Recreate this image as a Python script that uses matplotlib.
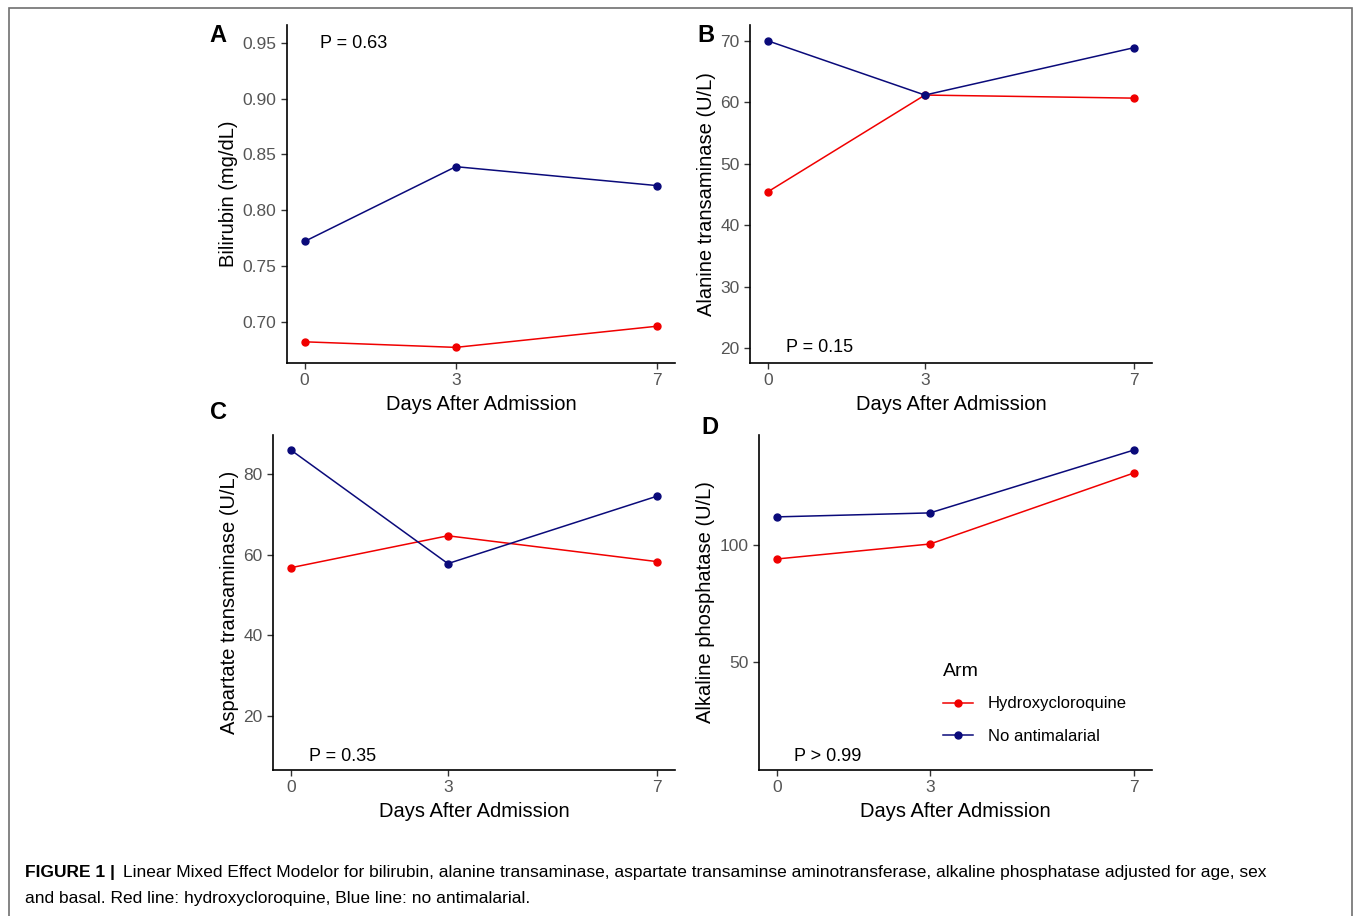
import matplotlib.pyplot as plt
from matplotlib.patches import Rectangle

plt.rcParams['font.family'] = ['Liberation Sans', 'DejaVu Sans']

days = [0, 3, 7]
day_labels = ["0", "3", "7"]

# values
bili_hcq = [0.682, 0.677, 0.696]
bili_none = [0.772, 0.839, 0.822]
alt_hcq = [45.5, 61.2, 60.7]
alt_none = [70.0, 61.2, 68.9]
ast_hcq = [56.8, 64.7, 58.3]
ast_none = [85.9, 57.8, 74.5]
alp_hcq = [94.0, 100.4, 130.8]
alp_none = [112.0, 113.7, 140.6]

arm_names = ["Hydroxycloroquine", "No antimalarial"]
red = "#F00000"
navy = "#0A0A7A"

W, H = 1355, 916
fig = plt.figure(figsize=(W / 100, H / 100), dpi=100)

# grey frame around the whole figure (bottom edge runs off the image)
fig.patches.append(Rectangle((9 / W, -10 / H), 1343 / W, 918 / H, transform=fig.transFigure,
                             fill=False, edgecolor="#707070", linewidth=1.2))


def box(x0, x1, y0, y1):
    return [x0 / W, 1 - y1 / H, (x1 - x0) / W, (y1 - y0) / H]


panels = [
    dict(rect=box(287, 675, 25, 363), hcq=bili_hcq, none=bili_none, ylabel="Bilirubin (mg/dL)",
         ylim=(0.663, 0.966), yticks=[0.70, 0.75, 0.80, 0.85, 0.90, 0.95], fmt="{:.2f}",
         p="P = 0.63", p_xy=(0.085, 0.945), letter="A", let_xy=(218, 36)),
    dict(rect=box(750, 1152, 25, 363), hcq=alt_hcq, none=alt_none, ylabel="Alanine transaminase (U/L)",
         ylim=(17.6, 72.6), yticks=[20, 30, 40, 50, 60, 70], fmt="{:.0f}",
         p="P = 0.15", p_xy=(0.09, 0.045), letter="B", let_xy=(706, 36)),
    dict(rect=box(273, 675, 435, 770), hcq=ast_hcq, none=ast_none, ylabel="Aspartate transaminase (U/L)",
         ylim=(6.6, 89.7), yticks=[20, 40, 60, 80], fmt="{:.0f}",
         p="P = 0.35", p_xy=(0.09, 0.04), letter="C", let_xy=(218, 412)),
    dict(rect=box(759, 1152, 435, 770), hcq=alp_hcq, none=alp_none, ylabel="Alkaline phosphatase (U/L)",
         ylim=(3.8, 147.0), yticks=[50, 100], fmt="{:.0f}",
         p="P > 0.99", p_xy=(0.09, 0.04), letter="D", let_xy=(710, 427)),
]

for pn in panels:
    ax = fig.add_axes(pn["rect"])
    ax.plot(days, pn["hcq"], color=red, marker="o", markersize=5, linewidth=1.1, label=arm_names[0])
    ax.plot(days, pn["none"], color=navy, marker="o", markersize=5, linewidth=1.1, label=arm_names[1])
    ax.set_xlim(-0.35, 7.35)
    ax.set_ylim(*pn["ylim"])
    ax.set_xticks(days)
    ax.set_xticklabels(day_labels)
    ax.set_yticks(pn["yticks"])
    ax.set_yticklabels([pn["fmt"].format(v) for v in pn["yticks"]])
    for s in ["top", "right"]:
        ax.spines[s].set_visible(False)
    for s in ["left", "bottom"]:
        ax.spines[s].set_linewidth(1.2)
    ax.tick_params(direction="out", length=4, width=1, color="#333333",
                   labelcolor="#555555", labelsize=12.5)
    ax.set_xlabel("Days After Admission", fontsize=14.5, labelpad=5)
    ax.set_ylabel(pn["ylabel"], fontsize=14.5, labelpad=3)
    ax.text(pn["p_xy"][0], pn["p_xy"][1], pn["p"], transform=ax.transAxes, fontsize=13,
            va="center", ha="left")
    fig.text(pn["let_xy"][0] / W, 1 - pn["let_xy"][1] / H, pn["letter"], fontsize=17,
             fontweight="bold", ha="center", va="center")
    if pn["letter"] == "D":
        leg = ax.legend(title="Arm", loc="upper left", bbox_to_anchor=(0.43, 0.365),
                        frameon=False, fontsize=12, title_fontsize=14, handlelength=1.8,
                        labelspacing=1.05, handletextpad=0.9)
        leg._legend_box.align = "left"
        leg._legend_box.sep = 12

fig.text(25 / W, 1 - 873 / H, "FIGURE 1 |", fontsize=12.5, fontweight="bold", va="center")
fig.text(123 / W, 1 - 873 / H,
         "Linear Mixed Effect Modelor for bilirubin, alanine transaminase, aspartate transaminse "
         "aminotransferase, alkaline phosphatase adjusted for age, sex",
         fontsize=12.5, va="center")
fig.text(25 / W, 1 - 898 / H, "and basal. Red line: hydroxycloroquine, Blue line: no antimalarial.",
         fontsize=12.5, va="center")

fig.savefig("out.png", dpi=100)
